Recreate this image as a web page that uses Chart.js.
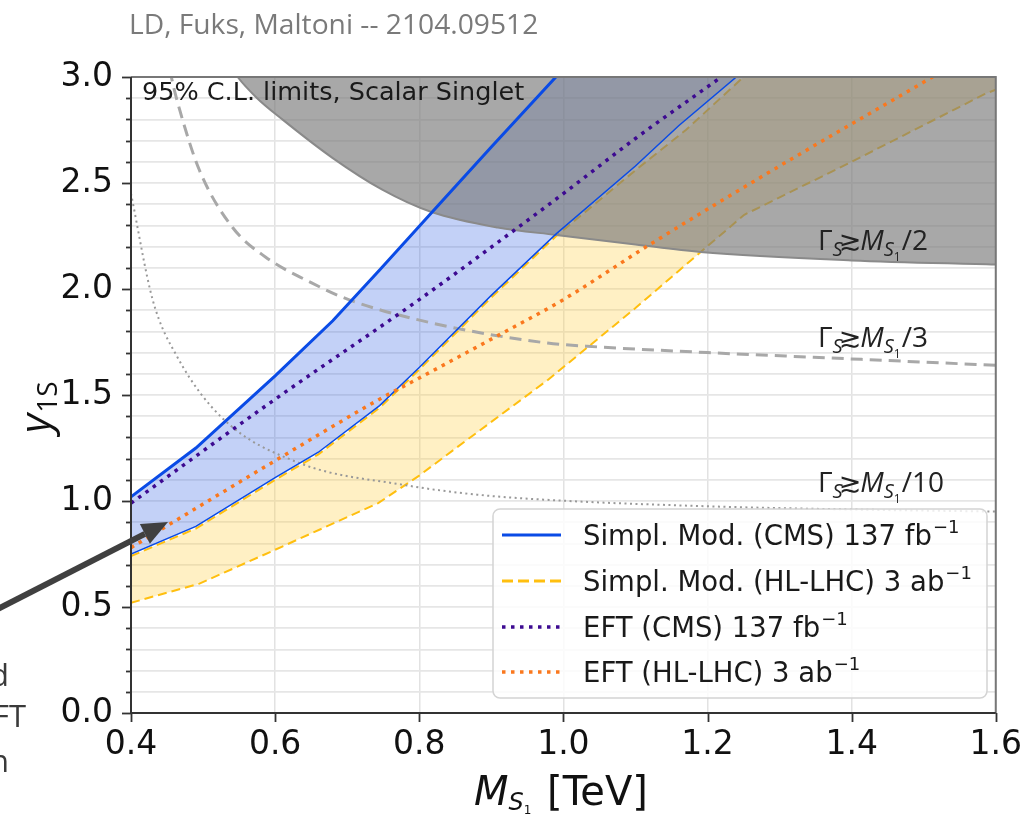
<!DOCTYPE html>
<html>
<head>
<meta charset="utf-8">
<script src="https://cdn.jsdelivr.net/npm/chart.js@4/dist/chart.umd.min.js"></script>
<style>
  html, body { margin: 0; padding: 0; background: #fff; }
  #wrap { position: relative; width: 1035px; height: 817px; }
</style>
</head>
<body>
<div id="wrap"><canvas id="myChart" width="1035" height="817"></canvas></div>
<script>
// --- Data (x = M_S1 in TeV, y = y_1S) ---
// values above 3.0 are outside the frame and only keep the bands closed
const blueUpperX = [0.4, 0.49, 0.6, 0.68, 0.745, 0.817, 0.9, 0.995, 1.1, 1.6];
const blueUpperY = [1.02, 1.25, 1.59, 1.85, 2.09, 2.36, 2.67, 3.02, 3.4, 5.2];

const blueLowerX = [0.4, 0.49, 0.6, 0.66, 0.745, 0.8, 0.9, 0.99, 1.1, 1.16, 1.24, 1.4, 1.6];
const blueLowerY = [0.75, 0.88, 1.11, 1.23, 1.45, 1.63, 1.97, 2.26, 2.58, 2.77, 3.0, 3.5, 4.1];

const yellowUpperX = [0.4, 0.49, 0.6, 0.66, 0.745, 0.8, 0.9, 0.99, 1.1, 1.17, 1.25, 1.4, 1.6];
const yellowUpperY = [0.74, 0.87, 1.10, 1.22, 1.44, 1.62, 1.96, 2.25, 2.56, 2.75, 3.0, 3.45, 4.0];

const yellowLowerX = [0.4, 0.495, 0.6, 0.743, 0.8, 0.863, 0.978, 1.1, 1.189, 1.251, 1.4, 1.585, 1.6];
const yellowLowerY = [0.52, 0.61, 0.77, 0.99, 1.12, 1.28, 1.57, 1.91, 2.17, 2.35, 2.60, 2.92, 2.94];

const eftCmsX = [0.4, 0.6, 0.8, 0.909, 1.0, 1.1, 1.219, 1.4];
const eftCmsY = [0.99, 1.48, 1.95, 2.22, 2.45, 2.71, 3.0, 3.45];

const eftHlX = [0.4, 0.6, 0.748, 0.8, 0.909, 1.0, 1.12, 1.3, 1.512, 1.6];
const eftHlY = [0.78, 1.19, 1.486, 1.58, 1.78, 1.95, 2.21, 2.58, 3.0, 3.18];

// width contours Gamma_S >~ M/2, M/3, M/10
const width2X = [0.4, 0.45, 0.5, 0.548, 0.575, 0.61, 0.679, 0.748, 0.817, 0.909, 0.99, 1.1, 1.19, 1.4, 1.6];
const width2Y = [4.2, 3.65, 3.25, 3.0, 2.9, 2.80, 2.62, 2.47, 2.363, 2.29, 2.255, 2.21, 2.175, 2.135, 2.115];

const width3X = [0.44, 0.456, 0.468, 0.495, 0.541, 0.587, 0.65, 0.702, 0.817, 0.978, 1.033, 1.2, 1.368, 1.6];
const width3Y = [3.3, 3.0, 2.84, 2.56, 2.29, 2.15, 2.03, 1.95, 1.84, 1.745, 1.73, 1.70, 1.675, 1.64];

const width10X = [0.4, 0.43, 0.465, 0.527, 0.633, 0.78, 0.88, 0.98, 1.2, 1.4, 1.6];
const width10Y = [2.45, 1.95, 1.675, 1.39, 1.18, 1.075, 1.03, 1.005, 0.975, 0.96, 0.95];

// axis ticks
const xTicks = [0.4, 0.6, 0.8, 1.0, 1.2, 1.4, 1.6];
const yMajorTicks = [0.0, 0.5, 1.0, 1.5, 2.0, 2.5, 3.0];

const legendLabels = [
    ["Simpl. Mod. (CMS) 137 fb", "−1"],
    ["Simpl. Mod. (HL-LHC) 3 ab", "−1"],
    ["EFT (CMS) 137 fb", "−1"],
    ["EFT (HL-LHC) 3 ab", "−1"]
];

// --- Colours ---
const BLUE = "#0a4be6";
const YELLOW = "#ffbf0f";
const PURPLE = "#3d0a91";
const ORANGE = "#fa781e";

function pts(xs, ys) {
    return xs.map((x, i) => ({ x: x, y: ys[i] }));
}

// dataset indices are used as fill targets
const datasets = [
    // 0 yellow band fill
    { data: pts(yellowUpperX, yellowUpperY), borderWidth: 0, fill: 2,
      backgroundColor: "rgba(255,205,60,0.30)", order: 10 },
    // 1 yellow upper dashed
    { data: pts(yellowUpperX, yellowUpperY), borderColor: YELLOW, borderWidth: 2,
      borderDash: [9, 5], fill: false, order: 9 },
    // 2 yellow lower dashed
    { data: pts(yellowLowerX, yellowLowerY), borderColor: YELLOW, borderWidth: 2,
      borderDash: [9, 5], fill: false, order: 9 },
    // 3 blue band fill
    { data: pts(blueUpperX, blueUpperY), borderWidth: 0, fill: 7,
      backgroundColor: "rgba(40,90,225,0.28)", order: 8 },
    // 4 gray excluded region Gamma > M/2
    { data: pts(width2X, width2Y), borderColor: "#8a8a8a", borderWidth: 2,
      fill: "end", backgroundColor: "rgba(122,122,122,0.65)", order: 6,
      cubicInterpolationMode: "monotone" },
    // 5 Gamma > M/3
    { data: pts(width3X, width3Y), borderColor: "#a8a8a8", borderWidth: 3,
      borderDash: [12, 7], fill: false, order: 5, cubicInterpolationMode: "monotone" },
    // 6 Gamma > M/10
    { data: pts(width10X, width10Y), borderColor: "#999", borderWidth: 2,
      borderDash: [2, 3.5], fill: false, order: 5, cubicInterpolationMode: "monotone" },
    // 7 blue lower (thin)
    { data: pts(blueLowerX, blueLowerY), borderColor: BLUE, borderWidth: 1.5,
      fill: false, order: 3 },
    // 8 blue upper (solid)
    { data: pts(blueUpperX, blueUpperY), borderColor: BLUE, borderWidth: 3,
      fill: false, order: 2 },
    // 9 EFT HL-LHC dotted
    { data: pts(eftHlX, eftHlY), borderColor: ORANGE, borderWidth: 3.5,
      borderDash: [3.5, 5.5], fill: false, order: 2, cubicInterpolationMode: "monotone" },
    // 10 EFT CMS dotted
    { data: pts(eftCmsX, eftCmsY), borderColor: PURPLE, borderWidth: 3.5,
      borderDash: [3.5, 5.5], fill: false, order: 1, cubicInterpolationMode: "monotone" }
];
datasets.forEach(d => { d.pointRadius = 0; d.tension = 0; });

// --- small rich-text helper for sub/superscripts ---
function drawRich(ctx, x, y, parts) {
    let cx = x;
    for (const p of parts) {
        ctx.font = (p.italic ? "italic " : "") + p.size + "px " + p.family;
        cx += p.dx || 0;
        ctx.fillText(p.t, cx, y + (p.dy || 0));
        cx += ctx.measureText(p.t).width;
    }
    return cx - x;
}

function gammaParts(den) {
    const f = "'Open Sans'";
    return [
        { t: "Γ", size: 28, family: f },
        { t: "S", size: 20, family: f, italic: true, dy: 6, dx: 0 },
        { t: "≳", size: 27, family: "'DejaVu Sans'", dx: -4 },
        { t: "M", size: 28, family: f, italic: true, dx: -1 },
        { t: "S", size: 20, family: f, italic: true, dy: 6 },
        { t: "1", size: 12, family: f, dy: 11 },
        { t: "/" + den, size: 28, family: f, dx: 1 }
    ];
}

const decorPlugin = {
    id: "decor",
    afterDraw(chart) {
        const ctx = chart.ctx;
        const a = chart.chartArea;
        const xs = chart.scales.x, ys = chart.scales.y;
        ctx.save();

        // frame
        ctx.strokeStyle = "#777";
        ctx.lineWidth = 2;
        ctx.beginPath();
        ctx.moveTo(a.left, a.top); ctx.lineTo(a.right, a.top); ctx.lineTo(a.right, a.bottom);
        ctx.stroke();
        ctx.strokeStyle = "#333";
        ctx.beginPath();
        ctx.moveTo(a.left, a.top); ctx.lineTo(a.left, a.bottom); ctx.lineTo(a.right, a.bottom);
        ctx.stroke();

        // ticks
        ctx.lineWidth = 1.8;
        for (let i = 0; i <= 30; i++) {
            const v = i / 10;
            const py = Math.round(ys.getPixelForValue(v)) + 0.5;
            const major = i % 5 === 0;
            ctx.beginPath();
            ctx.moveTo(a.left - (major ? 9 : 5), py);
            ctx.lineTo(a.left, py);
            ctx.stroke();
        }
        xTicks.forEach(v => {
            const px = Math.round(xs.getPixelForValue(v)) + 0.5;
            ctx.beginPath();
            ctx.moveTo(px, a.bottom);
            ctx.lineTo(px, a.bottom + 9);
            ctx.stroke();
        });

        // top-left annotation
        ctx.fillStyle = "#1a1a1a";
        ctx.textBaseline = "middle";
        ctx.font = "25.5px 'DejaVu Sans'";
        ctx.fillText("95% C.L. limits, Scalar Singlet", a.left + 11, a.top + 16);

        // width labels
        ctx.textBaseline = "alphabetic";
        ctx.fillStyle = "#222";
        drawRich(ctx, 818, 250, gammaParts("2"));
        drawRich(ctx, 818, 347, gammaParts("3"));
        drawRich(ctx, 818, 492, gammaParts("10"));

        // legend
        const lx = 493, ly = 509, lw = 494, lh = 189;
        ctx.beginPath();
        ctx.roundRect(lx, ly, lw, lh, 7);
        ctx.fillStyle = "rgba(255,255,255,0.82)";
        ctx.fill();
        ctx.strokeStyle = "#d4d4d4";
        ctx.lineWidth = 1.5;
        ctx.stroke();

        const rows = [535, 581, 627, 672];
        const styles = [
            { c: BLUE, w: 3, d: [] },
            { c: YELLOW, w: 3, d: [11, 5] },
            { c: PURPLE, w: 3.5, d: [3.5, 5.5] },
            { c: ORANGE, w: 3.5, d: [3.5, 5.5] }
        ];
        rows.forEach((ry, i) => {
            const s = styles[i];
            ctx.strokeStyle = s.c;
            ctx.lineWidth = s.w;
            ctx.setLineDash(s.d);
            ctx.beginPath();
            ctx.moveTo(502, ry);
            ctx.lineTo(561, ry);
            ctx.stroke();
            ctx.setLineDash([]);
            ctx.fillStyle = "#1a1a1a";
            ctx.textBaseline = "alphabetic";
            drawRich(ctx, 583, ry + 10, [
                { t: legendLabels[i][0], size: 27.5, family: "'DejaVu Sans'" },
                { t: legendLabels[i][1], size: 18, family: "'DejaVu Sans'", dy: -12, dx: 1 }
            ]);
        });

        // y axis label
        ctx.save();
        ctx.translate(50, 397);
        ctx.rotate(-Math.PI / 2);
        ctx.fillStyle = "#111";
        ctx.textBaseline = "alphabetic";
        drawRich(ctx, -36, 0, [
            { t: "y", size: 42, family: "'Open Sans'", italic: true },
            { t: "1S", size: 28, family: "'Open Sans'", dy: 7, dx: 1 }
        ]);
        ctx.restore();

        // x axis label
        ctx.fillStyle = "#111";
        drawRich(ctx, 474, 805, [
            { t: "M", size: 40, family: "'DejaVu Sans'", italic: true },
            { t: "S", size: 24, family: "'DejaVu Sans'", italic: true, dy: 5 },
            { t: "1", size: 12, family: "'DejaVu Sans'", dy: 9 },
            { t: " [TeV]", size: 40, family: "'DejaVu Sans'", dx: 3 }
        ]);

        // credit line on top
        ctx.fillStyle = "#7a7a7a";
        ctx.textBaseline = "alphabetic";
        const credit = "LD, Fuks, Maltoni -- 2104.09512";
        ctx.font = "24px 'Open Sans'";
        const fs = 24 * 410 / ctx.measureText(credit).width;
        ctx.font = fs.toFixed(1) + "px 'Open Sans'";
        ctx.fillText(credit, 129, 34);

        // arrow from the slide text
        ctx.strokeStyle = "#404040";
        ctx.fillStyle = "#404040";
        ctx.lineWidth = 6;
        const tx = 168, ty = 522, sx = -2, sy = 609;
        const ang = Math.atan2(ty - sy, tx - sx);
        const hl = 26, hw = 11;
        const bx = tx - hl * Math.cos(ang), by = ty - hl * Math.sin(ang);
        ctx.beginPath();
        ctx.moveTo(sx, sy);
        ctx.lineTo(bx, by);
        ctx.stroke();
        ctx.beginPath();
        ctx.moveTo(tx, ty);
        ctx.lineTo(bx + hw * Math.sin(ang), by - hw * Math.cos(ang));
        ctx.lineTo(bx - hw * Math.sin(ang), by + hw * Math.cos(ang));
        ctx.closePath();
        ctx.fill();

        // slide text cut at the left edge
        ctx.fillStyle = "#3a3a3a";
        ctx.font = "31px 'Open Sans'";
        ctx.textAlign = "right";
        ctx.fillText("Simplified", 9, 686);
        ctx.fillText("vs EFT", 26, 727);
        ctx.fillText("projection", 9, 772);

        ctx.restore();
    }
};

new Chart(document.getElementById("myChart"), {
    type: "line",
    data: { datasets: datasets },
    plugins: [decorPlugin],
    options: {
        responsive: false,
        animation: false,
        devicePixelRatio: 1,
        events: [],
        layout: { padding: { left: 0, top: 77, right: 34, bottom: 0 } },
        plugins: {
            legend: { display: false },
            tooltip: { enabled: false },
            filler: { propagate: false }
        },
        scales: {
            x: {
                type: "linear",
                min: 0.4, max: 1.6,
                afterFit: s => { s.height = 104; },
                grid: { color: "#e2e2e2", lineWidth: 1.5, drawTicks: false },
                border: { display: false },
                ticks: {
                    stepSize: 0.2, maxRotation: 0, autoSkip: false, padding: 13,
                    color: "#111", font: { family: "'DejaVu Sans'", size: 33 },
                    callback: v => v.toFixed(1)
                }
            },
            y: {
                type: "linear",
                min: 0, max: 3,
                afterFit: s => { s.width = 131; },
                grid: { color: "#e6e6e6", lineWidth: 1.8, drawTicks: false },
                border: { display: false },
                ticks: {
                    stepSize: 0.1, autoSkip: false, padding: 18,
                    color: "#111", font: { family: "'DejaVu Sans'", size: 33 },
                    callback: v => {
                        const m = yMajorTicks.find(t => Math.abs(t - v) < 1e-6);
                        return m === undefined ? "" : m.toFixed(1);
                    }
                }
            }
        }
    }
});
</script>
</body>
</html>
